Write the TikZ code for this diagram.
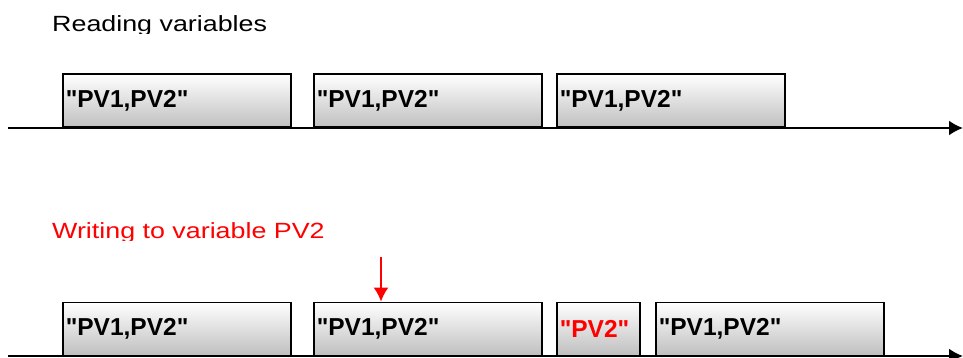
\documentclass[tikz,border=0pt]{standalone}
\usepackage{fontspec}
\setmainfont{Liberation Sans}[Ligatures=TeXOff]
\newfontfamily\titlefont[FakeStretch=1.22,Ligatures=TeXOff]{Liberation Sans}
\usetikzlibrary{arrows.meta}
\definecolor{alarmred}{RGB}{255,0,0}
\begin{document}
\begin{tikzpicture}[x=1pt,y=-1pt,
  frame/.style={draw, line width=1.5pt, top color=white, bottom color=black!25,
    anchor=south west, minimum height=53pt, inner xsep=3pt, inner ysep=0pt,
    align=left, font=\bfseries\fontsize{24.5}{24}\selectfont},
  timeaxis/.style={line width=2pt, -{Latex[length=14pt,width=15pt]}},
  caption/.style={anchor=base west, inner sep=0pt, font=\titlefont\fontsize{22}{22}\selectfont}]
\useasboundingbox (0,0) rectangle (963,358);

% reading: three identical frames on the time axis
\begin{scope}
  \clip (0,0) rectangle (500,34);
  \node[caption] (readcap) at (52,32) {Reading variables};
\end{scope}
\coordinate (ra0) at (8,128);
\coordinate (ra1) at (963,128);
\draw[timeaxis] (ra0) -- (ra1);
\node[frame, text width=222pt] (r1) at (62,128) {"PV1,PV2"};
\node[frame, text width=222pt] (r2) at (313,128) {"PV1,PV2"};
\node[frame, text width=222pt] (r3) at (556,128) {"PV1,PV2"};

% writing: the PV2 frame is inserted after the current cycle
\begin{scope}
  \clip (0,200) rectangle (500,240);
  \node[caption, text=alarmred] (writecap) at (52,238) {Writing to variable PV2};
\end{scope}
\coordinate (wa0) at (8,356);
\coordinate (wa1) at (963,356);
\draw[timeaxis] (wa0) -- (wa1);
\node[frame, text width=222pt] (w1) at (62,356) {"PV1,PV2"};
\node[frame, text width=222pt] (w2) at (313,356) {"PV1,PV2"};
\node[frame, text width=77pt, text=alarmred] (w3) at (556,356) {"PV2"};
\node[frame, text width=222pt] (w4) at (655,356) {"PV1,PV2"};

% write request
\coordinate (req) at (381,257);
\draw[alarmred, line width=1.5pt, -{Latex[length=14pt,width=15pt]}] (req) -- (req |- w2.north);
\end{tikzpicture}
\end{document}
